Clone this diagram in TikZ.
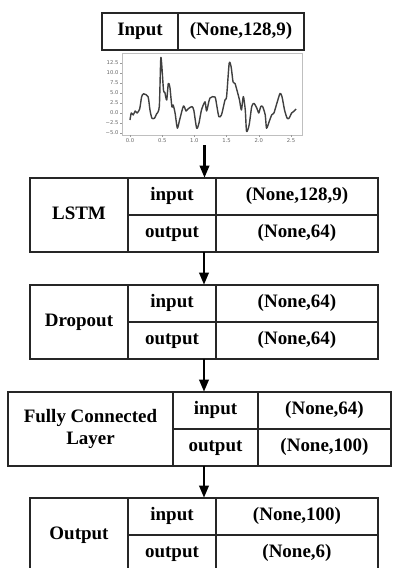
\documentclass[tikz,border=0pt]{standalone}
\usepackage{fontspec}
\setmainfont{Liberation Serif}
\newfontfamily\plotfont{DejaVu Sans}
\usetikzlibrary{arrows.meta}

\begin{document}
\begin{tikzpicture}[
    cell/.style={draw=black!85, line width=1pt, inner sep=0pt, align=center,
                 text height=0.72em, text depth=0.22em,
                 font=\fontsize{10.8}{13}\selectfont\bfseries},
    block/.style={inner sep=0pt, minimum height=1.48cm},
    flow/.style={-{Triangle[length=0.24cm,width=0.19cm]}, line width=1.2pt},
    ticklbl/.style={font=\plotfont\fontsize{3}{3.5}\selectfont, text=black!60, inner sep=0.5pt}
  ]
%    \draw[black,thin] (0.0,0.0) grid (7.84,11.36);
    \useasboundingbox (0,0) rectangle (7.84,11.36);

    % input shape
    \node[cell, minimum width=1.52cm, minimum height=0.74cm] (inname) at (2.80,10.73) {Input};
    \node[cell, minimum width=2.52cm, minimum height=0.74cm] (inval)  at (4.82,10.73) {(None,128,9)};

    % signal plot
    \node[inner sep=0pt, minimum width=3.98cm, minimum height=1.84cm] (chart) at (4.09,9.38) {};
    \begin{scope}[shift={(2.60,9.10)}, x=1.288cm, y=0.08cm]
      \draw[black!25, line width=0.4pt] (-0.124,-5.5) rectangle (2.671,15);
      \foreach \v/\l in {12.5/12.5, 10/10.0, 7.5/7.5, 5/5.0, 2.5/2.5, 0/0.0, -2.5/−2.5, -5/−5.0} {
        \draw[black!40, line width=0.3pt] (-0.124,\v) -- ++(-0.03,0);
        \node[ticklbl, anchor=east] at (-0.16,\v) {\l};
      }
      \foreach \t in {0.0,0.5,1.0,1.5,2.0,2.5} {
        \draw[black!40, line width=0.3pt] (\t,-5.5) -- ++(0,-0.5);
        \node[ticklbl, anchor=north] at (\t,-6.2) {\t};
      }
      \draw[black!75, line width=0.8pt, line join=round] plot[smooth, tension=0.4] coordinates {
        (0,-1.75) (0.02,0) (0.05,-0.5) (0.08,0.5) (0.11,0) (0.15,1) (0.18,4) (0.21,4.8)
        (0.28,4.1) (0.31,0.75) (0.34,-1.3) (0.38,-1.3) (0.41,-0.3) (0.455,1.6) (0.48,13.9)
        (0.52,5.75) (0.54,5.2) (0.57,3.25) (0.595,7.4) (0.62,6.4) (0.65,1.6) (0.67,2)
        (0.70,0) (0.735,-3.8) (0.77,-1.75) (0.83,1.75) (0.87,0.5) (0.9,1) (0.96,1.6)
        (0.99,0.75) (1.035,-3.8) (1.07,-2.6) (1.11,0.75) (1.165,2.8) (1.19,0.5) (1.24,3.7)
        (1.32,4) (1.35,1.6) (1.38,-0.9) (1.42,-0.5) (1.475,3.25) (1.5,4.1) (1.54,12.4)
        (1.57,11.6) (1.6,7.8) (1.63,7.4) (1.66,5.75) (1.70,3.25) (1.73,0.75) (1.76,4.1)
        (1.79,0.75) (1.81,-4.6) (1.85,-3) (1.89,1.6) (1.925,2.4) (1.97,1.2) (2.0,0)
        (2.03,1.6) (2.06,1.6) (2.1,-0.5) (2.12,-3.8) (2.16,-2.2) (2.2,-0.5) (2.235,0)
        (2.28,2.4) (2.33,4.9) (2.36,4.1) (2.4,0.75) (2.44,-1.3) (2.47,-1.3) (2.51,0)
        (2.55,0.5) (2.58,1)};
    \end{scope}

    % lstm layer
    \node[block, minimum width=6.96cm] (lstm) at (4.08,7.06) {};
    \node[cell, minimum width=1.96cm, minimum height=1.48cm] (lstmname)   at (1.58,7.06) {LSTM};
    \node[cell, minimum width=1.76cm, minimum height=0.74cm] (lstmin)     at (3.44,7.43) {input};
    \node[cell, minimum width=1.76cm, minimum height=0.74cm] (lstmout)    at (3.44,6.69) {output};
    \node[cell, minimum width=3.24cm, minimum height=0.74cm] (lstminval)  at (5.94,7.43) {(None,128,9)};
    \node[cell, minimum width=3.24cm, minimum height=0.74cm] (lstmoutval) at (5.94,6.69) {(None,64)};

    % dropout layer
    \node[block, minimum width=6.96cm] (drop) at (4.08,4.92) {};
    \node[cell, minimum width=1.96cm, minimum height=1.48cm] (dropname)   at (1.58,4.92) {Dropout};
    \node[cell, minimum width=1.76cm, minimum height=0.74cm] (dropin)     at (3.44,5.29) {input};
    \node[cell, minimum width=1.76cm, minimum height=0.74cm] (dropout)    at (3.44,4.55) {output};
    \node[cell, minimum width=3.24cm, minimum height=0.74cm] (dropinval)  at (5.94,5.29) {(None,64)};
    \node[cell, minimum width=3.24cm, minimum height=0.74cm] (dropoutval) at (5.94,4.55) {(None,64)};

    % fully connected layer
    \node[block, minimum width=7.66cm] (fc) at (3.99,2.78) {};
    \node[cell, minimum width=3.30cm, minimum height=1.48cm, text height=, text depth=] (fcname) at (1.81,2.78) {Fully Connected\\Layer};
    \node[cell, minimum width=1.70cm, minimum height=0.74cm] (fcin)     at (4.31,3.15) {input};
    \node[cell, minimum width=1.70cm, minimum height=0.74cm] (fcout)    at (4.31,2.41) {output};
    \node[cell, minimum width=2.66cm, minimum height=0.74cm] (fcinval)  at (6.49,3.15) {(None,64)};
    \node[cell, minimum width=2.66cm, minimum height=0.74cm] (fcoutval) at (6.49,2.41) {(None,100)};

    % output layer
    \node[block, minimum width=6.96cm] (outp) at (4.08,0.66) {};
    \node[cell, minimum width=1.96cm, minimum height=1.48cm] (outpname)   at (1.58,0.66) {Output};
    \node[cell, minimum width=1.76cm, minimum height=0.74cm] (outpin)     at (3.44,1.03) {input};
    \node[cell, minimum width=1.76cm, minimum height=0.74cm] (outpout)    at (3.44,0.29) {output};
    \node[cell, minimum width=3.24cm, minimum height=0.74cm] (outpinval)  at (5.94,1.03) {(None,100)};
    \node[cell, minimum width=3.24cm, minimum height=0.74cm] (outpoutval) at (5.94,0.29) {(None,6)};

    % arrows
    \draw[flow] (chart.south) -- (chart.south |- lstm.north);
    \draw[flow] (lstm.south) -- (drop.north);
    \draw[flow] (drop.south) -- (drop.south |- fc.north);
    \draw[flow] (fc.south -| outp.north) -- (outp.north);

  \end{tikzpicture}
\end{document}
